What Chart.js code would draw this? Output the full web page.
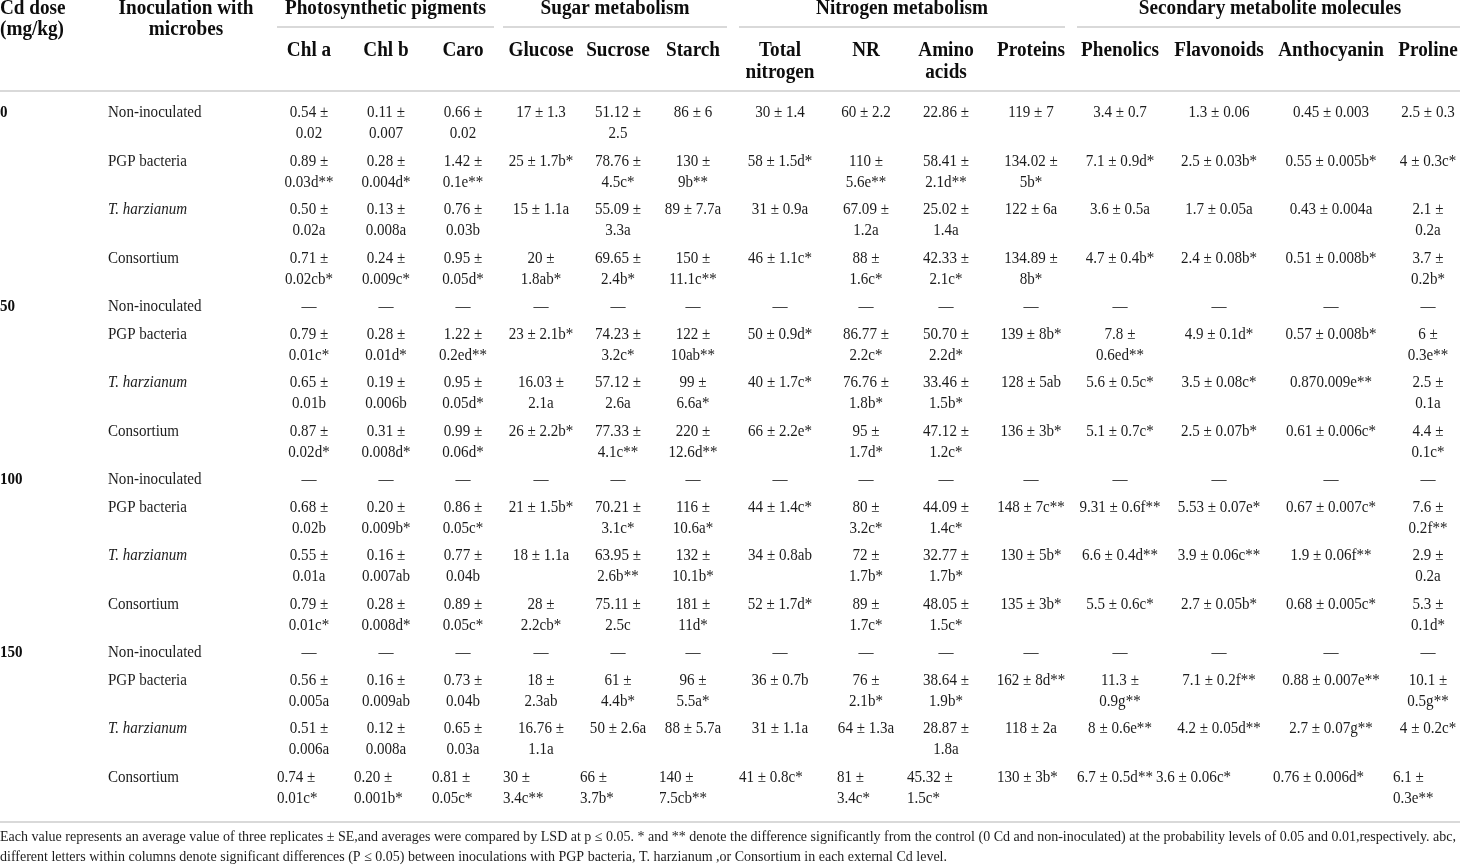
<!DOCTYPE html>
<html>
<head>
<meta charset="utf-8">
<script src="https://cdn.jsdelivr.net/npm/chart.js@4.4.1/dist/chart.umd.min.js"></script>
<style>
  html, body { margin: 0; padding: 0; background: #fff; }
  canvas { display: block; }
</style>
</head>
<body>
<canvas id="table" width="1460" height="867"></canvas>
<script>
// Table content, as printed in the source table
const doses = ['0', '50', '100', '150']
const inoculations = ['Non-inoculated', 'PGP bacteria', 'T. harzianum', 'Consortium']
const groupNames = ['Photosynthetic pigments', 'Sugar metabolism', 'Nitrogen metabolism', 'Secondary metabolite molecules']
const groupSpans = [3, 3, 4, 4]
const columnNames = ['Chl a', 'Chl b', 'Caro', 'Glucose', 'Sucrose', 'Starch', 'Total\nnitrogen', 'NR',
  'Amino\nacids', 'Proteins', 'Phenolics', 'Flavonoids', 'Anthocyanin', 'Proline']

const chlA = ['0.54 ±\n0.02', '0.89 ±\n0.03d**', '0.50 ±\n0.02a', '0.71 ±\n0.02cb*',
  '—', '0.79 ±\n0.01c*', '0.65 ±\n0.01b', '0.87 ±\n0.02d*',
  '—', '0.68 ±\n0.02b', '0.55 ±\n0.01a', '0.79 ±\n0.01c*',
  '—', '0.56 ±\n0.005a', '0.51 ±\n0.006a', '0.74 ±\n0.01c*']
const chlB = ['0.11 ±\n0.007', '0.28 ±\n0.004d*', '0.13 ±\n0.008a', '0.24 ±\n0.009c*',
  '—', '0.28 ±\n0.01d*', '0.19 ±\n0.006b', '0.31 ±\n0.008d*',
  '—', '0.20 ±\n0.009b*', '0.16 ±\n0.007ab', '0.28 ±\n0.008d*',
  '—', '0.16 ±\n0.009ab', '0.12 ±\n0.008a', '0.20 ±\n0.001b*']
const caro = ['0.66 ±\n0.02', '1.42 ±\n0.1e**', '0.76 ±\n0.03b', '0.95 ±\n0.05d*',
  '—', '1.22 ±\n0.2ed**', '0.95 ±\n0.05d*', '0.99 ±\n0.06d*',
  '—', '0.86 ±\n0.05c*', '0.77 ±\n0.04b', '0.89 ±\n0.05c*',
  '—', '0.73 ±\n0.04b', '0.65 ±\n0.03a', '0.81 ±\n0.05c*']
const glucose = ['17 ± 1.3', '25 ± 1.7b*', '15 ± 1.1a', '20 ±\n1.8ab*',
  '—', '23 ± 2.1b*', '16.03 ±\n2.1a', '26 ± 2.2b*',
  '—', '21 ± 1.5b*', '18 ± 1.1a', '28 ±\n2.2cb*',
  '—', '18 ±\n2.3ab', '16.76 ±\n1.1a', '30 ±\n3.4c**']
const sucrose = ['51.12 ±\n2.5', '78.76 ±\n4.5c*', '55.09 ±\n3.3a', '69.65 ±\n2.4b*',
  '—', '74.23 ±\n3.2c*', '57.12 ±\n2.6a', '77.33 ±\n4.1c**',
  '—', '70.21 ±\n3.1c*', '63.95 ±\n2.6b**', '75.11 ±\n2.5c',
  '—', '61 ±\n4.4b*', '50 ± 2.6a', '66 ±\n3.7b*']
const starch = ['86 ± 6', '130 ±\n9b**', '89 ± 7.7a', '150 ±\n11.1c**',
  '—', '122 ±\n10ab**', '99 ±\n6.6a*', '220 ±\n12.6d**',
  '—', '116 ±\n10.6a*', '132 ±\n10.1b*', '181 ±\n11d*',
  '—', '96 ±\n5.5a*', '88 ± 5.7a', '140 ±\n7.5cb**']
const totalNitrogen = ['30 ± 1.4', '58 ± 1.5d*', '31 ± 0.9a', '46 ± 1.1c*',
  '—', '50 ± 0.9d*', '40 ± 1.7c*', '66 ± 2.2e*',
  '—', '44 ± 1.4c*', '34 ± 0.8ab', '52 ± 1.7d*',
  '—', '36 ± 0.7b', '31 ± 1.1a', '41 ± 0.8c*']
const nr = ['60 ± 2.2', '110 ±\n5.6e**', '67.09 ±\n1.2a', '88 ±\n1.6c*',
  '—', '86.77 ±\n2.2c*', '76.76 ±\n1.8b*', '95 ±\n1.7d*',
  '—', '80 ±\n3.2c*', '72 ±\n1.7b*', '89 ±\n1.7c*',
  '—', '76 ±\n2.1b*', '64 ± 1.3a', '81 ±\n3.4c*']
const aminoAcids = ['22.86 ±', '58.41 ±\n2.1d**', '25.02 ±\n1.4a', '42.33 ±\n2.1c*',
  '—', '50.70 ±\n2.2d*', '33.46 ±\n1.5b*', '47.12 ±\n1.2c*',
  '—', '44.09 ±\n1.4c*', '32.77 ±\n1.7b*', '48.05 ±\n1.5c*',
  '—', '38.64 ±\n1.9b*', '28.87 ±\n1.8a', '45.32 ±\n1.5c*']
const proteins = ['119 ± 7', '134.02 ±\n5b*', '122 ± 6a', '134.89 ±\n8b*',
  '—', '139 ± 8b*', '128 ± 5ab', '136 ± 3b*',
  '—', '148 ± 7c**', '130 ± 5b*', '135 ± 3b*',
  '—', '162 ± 8d**', '118 ± 2a', '130 ± 3b*']
const phenolics = ['3.4 ± 0.7', '7.1 ± 0.9d*', '3.6 ± 0.5a', '4.7 ± 0.4b*',
  '—', '7.8 ±\n0.6ed**', '5.6 ± 0.5c*', '5.1 ± 0.7c*',
  '—', '9.31 ± 0.6f**', '6.6 ± 0.4d**', '5.5 ± 0.6c*',
  '—', '11.3 ±\n0.9g**', '8 ± 0.6e**', '6.7 ± 0.5d**']
const flavonoids = ['1.3 ± 0.06', '2.5 ± 0.03b*', '1.7 ± 0.05a', '2.4 ± 0.08b*',
  '—', '4.9 ± 0.1d*', '3.5 ± 0.08c*', '2.5 ± 0.07b*',
  '—', '5.53 ± 0.07e*', '3.9 ± 0.06c**', '2.7 ± 0.05b*',
  '—', '7.1 ± 0.2f**', '4.2 ± 0.05d**', '3.6 ± 0.06c*']
const anthocyanin = ['0.45 ± 0.003', '0.55 ± 0.005b*', '0.43 ± 0.004a', '0.51 ± 0.008b*',
  '—', '0.57 ± 0.008b*', '0.870.009e**', '0.61 ± 0.006c*',
  '—', '0.67 ± 0.007c*', '1.9 ± 0.06f**', '0.68 ± 0.005c*',
  '—', '0.88 ± 0.007e**', '2.7 ± 0.07g**', '0.76 ± 0.006d*']
const proline = ['2.5 ± 0.3', '4 ± 0.3c*', '2.1 ±\n0.2a', '3.7 ±\n0.2b*',
  '—', '6 ±\n0.3e**', '2.5 ±\n0.1a', '4.4 ±\n0.1c*',
  '—', '7.6 ±\n0.2f**', '2.9 ±\n0.2a', '5.3 ±\n0.1d*',
  '—', '10.1 ±\n0.5g**', '4 ± 0.2c*', '6.1 ±\n0.3e**']

const footnote = [
  'Each value represents an average value of three replicates ± SE,and averages were compared by LSD at p ≤ 0.05. * and ** denote the difference significantly from the control (0 Cd and non-inoculated) at the probability levels of 0.05 and 0.01,respectively. abc,',
  'different letters within columns denote significant differences (P ≤ 0.05) between inoculations with PGP bacteria, T. harzianum ,or Consortium in each external Cd level.'
]

const columns = [chlA, chlB, caro, glucose, sucrose, starch, totalNitrogen, nr,
  aminoAcids, proteins, phenolics, flavonoids, anthocyanin, proline]

// Layout
const W = 1460
const H = 867
const SERIF = '"Liberation Serif", "DejaVu Serif", serif'
const BODY_FONT = '16px ' + SERIF
const HEAD_FONT = 'bold 20px ' + SERIF
const BODY_COLOR = '#1c1c1c'
const HEAD_COLOR = '#0d0d0d'
const RULE_COLOR = '#cdcdcd'
const SQUEEZE = 0.94 // the printed face is narrower than Liberation Serif
const HEAD_SQUEEZE = 0.96
const LINE_H = 21
const ROW_PAD = 6.5
const FIRST_ROW_Y = 113
const DOSE_X = 0
const INOC_X = 108
const colLeft = [277, 354, 432, 503, 580, 659, 739, 837, 907, 997, 1077, 1156, 1273, 1393]
const colWidth = [64, 64, 62, 76, 76, 68, 82, 58, 78, 68, 86, 126, 116, 70]
const colCenter = colLeft.map((l, i) => l + colWidth[i] / 2)

// one row per dose x inoculation
const rowCount = doses.length * inoculations.length
const lineCount = (s) => s.split('\n').length
const rowLines = []
for (let r = 0; r < rowCount; r++) {
  rowLines.push(Math.max(...columns.map((col) => lineCount(col[r]))))
}
const rowY = [FIRST_ROW_Y]
for (let r = 1; r < rowCount; r++) {
  rowY.push(rowY[r - 1] + ROW_PAD + LINE_H * rowLines[r - 1])
}
const lastRow = rowCount - 1
const tableBottom = rowY[lastRow] + LINE_H * (rowLines[lastRow] - 1) + 23.5

// the last row of the source table is printed flush left in each cell
const cellAnchor = (c, r) => (r === lastRow ? colLeft[c] : colCenter[c])
const cellAlign = (r) => (r === lastRow ? 'left' : 'center')

const datasets = columns.map((col, c) => ({
  label: columnNames[c].replace('\n', ' '),
  data: col.map((_, r) => ({ x: cellAnchor(c, r), y: rowY[r] })),
  texts: col,
  aligns: col.map((_, r) => cellAlign(r)),
  font: BODY_FONT,
  color: BODY_COLOR
}))

datasets.push({
  label: 'Inoculation',
  data: rowY.map((y) => ({ x: INOC_X, y: y })),
  texts: rowY.map((_, r) => inoculations[r % inoculations.length]),
  aligns: rowY.map(() => 'left'),
  fonts: rowY.map((_, r) => (r % inoculations.length === 2 ? 'italic ' : '') + BODY_FONT),
  font: BODY_FONT,
  color: BODY_COLOR
})

datasets.push({
  label: 'Cd dose',
  data: doses.map((_, d) => ({ x: DOSE_X, y: rowY[d * inoculations.length] })),
  texts: doses,
  aligns: doses.map(() => 'left'),
  font: 'bold 16px ' + SERIF,
  color: HEAD_COLOR
})

// draws (possibly multi-line) text squeezed horizontally around its anchor
function drawText(ctx, text, px, py, lh, squeeze) {
  ctx.save()
  ctx.translate(px, py)
  ctx.scale(squeeze, 1)
  text.split('\n').forEach((line, k) => ctx.fillText(line, 0, k * lh))
  ctx.restore()
}

const tablePlugin = {
  id: 'tablePlugin',
  afterDatasetsDraw(chart) {
    const { ctx, scales: { x, y } } = chart
    ctx.save()
    ctx.textBaseline = 'middle'

    // body cells
    chart.data.datasets.forEach((ds, di) => {
      const meta = chart.getDatasetMeta(di)
      ctx.fillStyle = ds.color
      meta.data.forEach((pt, i) => {
        ctx.font = ds.fonts ? ds.fonts[i] : ds.font
        ctx.textAlign = ds.aligns[i]
        drawText(ctx, ds.texts[i], pt.x, pt.y, LINE_H, SQUEEZE)
      })
    })

    // header
    ctx.fillStyle = HEAD_COLOR
    ctx.font = HEAD_FONT
    ctx.textAlign = 'left'
    drawText(ctx, 'Cd dose\n(mg/kg)', x.getPixelForValue(DOSE_X), y.getPixelForValue(9), LINE_H, HEAD_SQUEEZE)
    ctx.textAlign = 'center'
    drawText(ctx, 'Inoculation with\nmicrobes', x.getPixelForValue(186), y.getPixelForValue(9), LINE_H, HEAD_SQUEEZE)
    columnNames.forEach((name, c) => {
      drawText(ctx, name, x.getPixelForValue(colCenter[c]), y.getPixelForValue(51), 22, HEAD_SQUEEZE)
    })

    ctx.strokeStyle = RULE_COLOR
    ctx.lineWidth = 1.5
    let first = 0
    groupNames.forEach((name, g) => {
      const last = first + groupSpans[g] - 1
      const left = x.getPixelForValue(colLeft[first])
      const right = x.getPixelForValue(colLeft[last] + colWidth[last])
      drawText(ctx, name, (left + right) / 2, y.getPixelForValue(9), LINE_H, HEAD_SQUEEZE)
      ctx.beginPath()
      ctx.moveTo(left, y.getPixelForValue(27))
      ctx.lineTo(right, y.getPixelForValue(27))
      ctx.stroke()
      first = last + 1
    })

    // horizontal rules
    ;[91, tableBottom].forEach((v) => {
      ctx.beginPath()
      ctx.moveTo(x.getPixelForValue(0), y.getPixelForValue(v))
      ctx.lineTo(x.getPixelForValue(W), y.getPixelForValue(v))
      ctx.stroke()
    })

    // footnote
    ctx.fillStyle = BODY_COLOR
    ctx.font = '14px ' + SERIF
    ctx.textAlign = 'left'
    footnote.forEach((line, k) => {
      ctx.fillText(line, x.getPixelForValue(0), y.getPixelForValue(tableBottom + 15 + k * 20), 1456)
    })
    ctx.restore()
  }
}

new Chart(document.getElementById('table').getContext('2d'), {
  type: 'scatter',
  data: { datasets: datasets },
  options: {
    responsive: false,
    animation: false,
    devicePixelRatio: 1,
    layout: { padding: 0 },
    elements: { point: { radius: 0, hoverRadius: 0 } },
    plugins: { legend: { display: false }, tooltip: { enabled: false } },
    scales: {
      x: { type: 'linear', min: 0, max: W, display: false },
      y: { type: 'linear', min: 0, max: H, reverse: true, display: false }
    }
  },
  plugins: [tablePlugin]
})
</script>
</body>
</html>
